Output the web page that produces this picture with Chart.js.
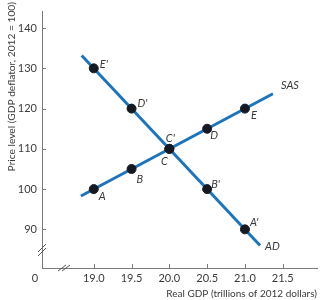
<!DOCTYPE html>
<html><head><meta charset="utf-8">
<script src="https://cdn.jsdelivr.net/npm/chart.js@4/dist/chart.umd.min.js"></script>
<style>html,body{margin:0;padding:0;background:#fff}canvas{display:block}</style>
</head><body>
<canvas id="c" width="323" height="300"></canvas>
<script>
// Data
const realGDP = [19.0, 19.5, 20.0, 20.5, 21.0];
const sasPrice = [100, 105, 110, 115, 120];
const adPrice = [130, 120, 110, 100, 90];
const sasLabels = ["A", "B", "C", "D", "E"];
const adLabels = ["E'", "D'", "C'", "B'", "A'"];
const sasEndsX = [18.83, 21.37];
const sasEndsY = [98.3, 123.7];
const adEndsX = [18.84, 21.2];
const adEndsY = [133.2, 86.0];
const xTicks = [19.0, 19.5, 20.0, 20.5, 21.0, 21.5];
const yTicks = [90, 100, 110, 120, 130, 140];
const xTitle = "Real GDP (trillions of 2012 dollars)";
const yTitle = "Price level (GDP deflator, 2012 = 100)";

const BLUE = '#1c75bc';
const DOT = '#151a22';
const AXIS = '#7a7a7a';
const TXT = '#3a3a3a';
const FONT = 'Lato';

// label offsets (pixels) and alignment per point
const sasOff = [[5,7,'left'],[5,10,'left'],[-5,13,'center'],[3,7,'left'],[6,7,'left']];
const adOff = [[6,-4,'left'],[6,-5,'left'],[1,-10,'center'],[4,-5,'left'],[5,-7,'left']];

const pts = (xs, ys) => xs.map((x, i) => ({x, y: ys[i]}));

const overlay = {
  id: 'overlay',
  afterDraw(chart) {
    const ctx = chart.ctx, xs = chart.scales.x, ys = chart.scales.y;
    const ca = chart.chartArea;
    ctx.save();
    // tick marks pointing inward
    ctx.strokeStyle = AXIS; ctx.lineWidth = 1;
    xTicks.forEach(v => { const px = Math.round(xs.getPixelForValue(v)) + 0.5;
      ctx.beginPath(); ctx.moveTo(px, ca.bottom); ctx.lineTo(px, ca.bottom - 4); ctx.stroke(); });
    yTicks.forEach(v => { const py = Math.round(ys.getPixelForValue(v)) + 0.5;
      ctx.beginPath(); ctx.moveTo(ca.left, py); ctx.lineTo(ca.left + 4, py); ctx.stroke(); });
    // axis breaks
    ctx.strokeStyle = '#555'; ctx.lineWidth = 1;
    const bx = 64, by = ca.bottom;
    [-2, 2].forEach(d => { ctx.beginPath(); ctx.moveTo(bx + d - 4, by + 3); ctx.lineTo(bx + d + 4, by - 3); ctx.stroke(); });
    const yx = ca.left, yy = 250;
    [-2, 2].forEach(d => { ctx.beginPath(); ctx.moveTo(yx - 4, yy + d + 4); ctx.lineTo(yx + 4, yy + d - 4); ctx.stroke(); });
    // origin label
    ctx.fillStyle = TXT; ctx.font = '11px ' + FONT; ctx.textAlign = 'center'; ctx.textBaseline = 'middle';
    ctx.fillText('0', 35, 278);
    // axis titles
    ctx.font = '10px ' + FONT; ctx.textAlign = 'right';
    ctx.fillText(xTitle, 317, 294);
    ctx.font = '10.2px ' + FONT;
    ctx.save(); ctx.translate(12, 2); ctx.rotate(-Math.PI / 2);
    ctx.textAlign = 'right'; ctx.fillText(yTitle, 0, 0); ctx.restore();
    // point labels
    ctx.font = 'italic 11px ' + FONT; ctx.fillStyle = TXT;
    const lab = (xv, yv, t, o) => { ctx.textAlign = o[2];
      ctx.fillText(t, xs.getPixelForValue(xv) + o[0], ys.getPixelForValue(yv) + o[1]); };
    realGDP.forEach((x, i) => { lab(x, sasPrice[i], sasLabels[i], sasOff[i]); lab(x, adPrice[i], adLabels[i], adOff[i]); });
    ctx.textAlign = 'left';
    ctx.fillText('SAS', 281, 85);
    ctx.fillText('AD', 265, 246);
    ctx.restore();
  }
};

new Chart(document.getElementById('c'), {
  type: 'scatter',
  data: { datasets: [
    { data: pts(realGDP, sasPrice), pointRadius: 4.5, pointBackgroundColor: DOT, pointBorderColor: DOT, showLine: false, order: 0 },
    { data: pts(realGDP, adPrice), pointRadius: 4.5, pointBackgroundColor: DOT, pointBorderColor: DOT, showLine: false, order: 0 },
    { data: pts(sasEndsX, sasEndsY), showLine: true, borderColor: BLUE, borderWidth: 3, pointRadius: 0, order: 1 },
    { data: pts(adEndsX, adEndsY), showLine: true, borderColor: BLUE, borderWidth: 3, pointRadius: 0, order: 1 }
  ]},
  options: {
    responsive: false, animation: false, devicePixelRatio: 1,
    layout: { padding: { top: 3, right: 1, left: 0, bottom: 0 } },
    plugins: { legend: { display: false }, tooltip: { enabled: false } },
    scales: {
      x: { type: 'linear', min: 18.315, max: 21.96,
        afterBuildTicks: s => { s.ticks = xTicks.map(v => ({value: v})); },
        afterFit: s => { s.height = 32; },
        grid: { display: false, drawTicks: false }, border: { color: AXIS, width: 1 },
        ticks: { color: TXT, font: { family: FONT, size: 11 }, padding: 4, maxRotation: 0, autoSkip: false,
          callback: v => Number(v).toFixed(1) } },
      y: { type: 'linear', min: 80.4, max: 144.1,
        afterBuildTicks: s => { s.ticks = yTicks.map(v => ({value: v})); },
        afterFit: s => { s.width = 42; },
        grid: { display: false, drawTicks: false }, border: { color: AXIS, width: 1 },
        ticks: { color: TXT, font: { family: FONT, size: 11 }, padding: 5, autoSkip: false } }
    }
  },
  plugins: [overlay]
});
</script>
</body></html>
